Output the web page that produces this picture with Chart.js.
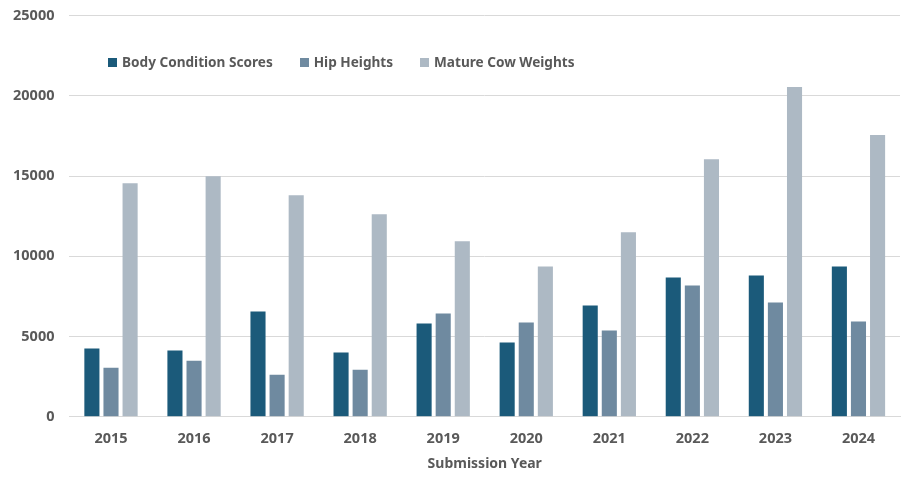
<!DOCTYPE html>
<html>
<head>
<meta charset="utf-8">
<script src="https://cdn.jsdelivr.net/npm/chart.js@4"></script>
<style>
  html, body { margin: 0; padding: 0; background: #fff; }
  #wrap { position: relative; width: 904px; height: 477px; overflow: hidden; }
  #yearChart { position: absolute; left: -12px; top: -8px; }
  #legend { position: absolute; left: 108px; top: 52px; display: flex;
            font: bold 13.6px "Noto Sans", sans-serif; color: #595959; }
  #legend div { margin-right: 27px; }
  #legend span.sw { display: inline-block; width: 9px; height: 9px; margin-right: 5px; }
</style>
</head>
<body>
<div id="wrap">
  <canvas id="yearChart" width="916" height="484"></canvas>
  <div id="legend"></div>
</div>
<script>
// Veriler
const years = ['2015', '2016', '2017', '2018', '2019', '2020', '2021', '2022', '2023', '2024'];
const bodyCondition = [4250, 4125, 6560, 4000, 5810, 4625, 6940, 8690, 8810, 9375];
const hipHeights = [3060, 3500, 2625, 2940, 6440, 5875, 5375, 8190, 7125, 5940];
const cowWeights = [14560, 15000, 13810, 12625, 10940, 9375, 11500, 16060, 20560, 17560];
const yTicks = [0, 5000, 10000, 15000, 20000, 25000];

const seriesNames = ['Body Condition Scores', 'Hip Heights', 'Mature Cow Weights'];
const seriesColors = ['#1b5a7a', '#6f8aa0', '#adb9c4'];

const labelFont = { family: 'Noto Sans', size: 14.5, weight: 'bold' };

const ctx = document.getElementById('yearChart').getContext('2d');
new Chart(ctx, {
    type: 'bar',
    data: {
        labels: years,
        datasets: [bodyCondition, hipHeights, cowWeights].map((vals, i) => ({
            label: seriesNames[i],
            data: vals,
            backgroundColor: seriesColors[i],
            categoryPercentage: 0.69,
            barPercentage: 0.79
        }))
    },
    options: {
        responsive: false,
        animation: false,
        layout: { padding: { top: 5, right: 4, left: 10, bottom: 0 } },
        plugins: {
            legend: { display: false },
            tooltip: { enabled: false }
        },
        scales: {
            x: {
                grid: { display: false },
                border: { color: '#d9d9d9' },
                ticks: { color: '#595959', font: labelFont, padding: 5 },
                title: {
                    display: true,
                    text: 'Submission Year',
                    color: '#595959',
                    font: { family: 'Noto Sans', size: 14, weight: 'bold' },
                    padding: { top: 3 }
                }
            },
            y: {
                min: 0,
                max: 25000,
                afterBuildTicks: axis => { axis.ticks = yTicks.map(v => ({ value: v })); },
                grid: { color: '#d9d9d9', drawTicks: false },
                border: { display: false },
                ticks: {
                    color: '#595959',
                    font: labelFont,
                    padding: 15,
                    callback: v => String(v) // virgülsüz
                }
            }
        }
    }
});

// HTML legend
const legend = document.getElementById('legend');
seriesNames.forEach((name, i) => {
    const item = document.createElement('div');
    item.innerHTML = `<span class="sw" style="background:${seriesColors[i]}"></span>${name}`;
    legend.appendChild(item);
});
</script>
</body>
</html>
